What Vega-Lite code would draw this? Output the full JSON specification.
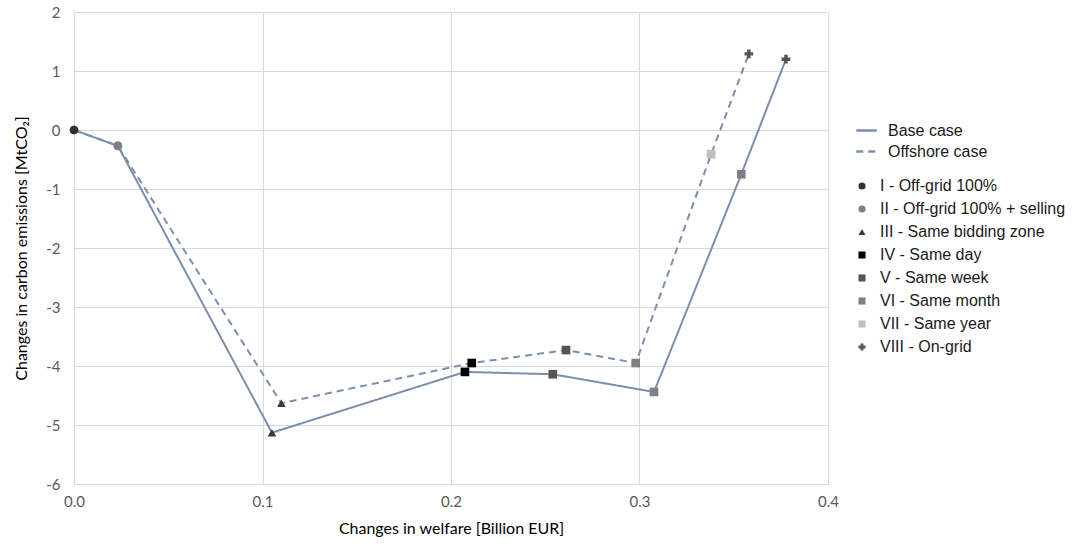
{
  "$schema": "https://vega.github.io/schema/vega-lite/v6.json",
  "width": 754,
  "height": 472,
  "autosize": "none",
  "padding": {"left": 74, "top": 12, "right": 256, "bottom": 60},
  "background": "white",
  "config": {
    "view": {"stroke": null},
    "axis": {
      "labelFont": "Lato", "labelFontSize": 15, "labelColor": "#595959", "labelFlush": false,
      "titleFont": "Lato", "titleFontSize": 16, "titleFontWeight": "normal", "titleColor": "#000000",
      "gridColor": "#d9d9d9", "domainColor": "#d9d9d9", "ticks": false
    },
    "legend": {"labelFont": "Liberation Sans", "labelFontSize": 16, "labelColor": "#1a1a1a", "labelLimit": 300}
  },
  "data": {"values": [
    {"case": "Base case", "stage": "I - Off-grid 100%", "x": 0, "y": 0, "ord": 1},
    {"case": "Base case", "stage": "II - Off-grid 100% + selling", "x": 0.0233, "y": -0.27, "ord": 2},
    {"case": "Base case", "stage": "III - Same bidding zone", "x": 0.105, "y": -5.13, "ord": 3},
    {"case": "Base case", "stage": "IV - Same day", "x": 0.2074, "y": -4.1, "ord": 4},
    {"case": "Base case", "stage": "V - Same week", "x": 0.254, "y": -4.14, "ord": 5},
    {"case": "Base case", "stage": "VI - Same month", "x": 0.3077, "y": -4.44, "ord": 6},
    {"case": "Base case", "stage": "VI - Same month", "x": 0.354, "y": -0.75, "ord": 7},
    {"case": "Base case", "stage": "VIII - On-grid", "x": 0.3777, "y": 1.2, "ord": 8},
    {"case": "Offshore case", "stage": "I - Off-grid 100%", "x": 0, "y": 0, "ord": 1},
    {"case": "Offshore case", "stage": "II - Off-grid 100% + selling", "x": 0.0233, "y": -0.27, "ord": 2},
    {"case": "Offshore case", "stage": "III - Same bidding zone", "x": 0.110, "y": -4.63, "ord": 3},
    {"case": "Offshore case", "stage": "IV - Same day", "x": 0.211, "y": -3.95, "ord": 4},
    {"case": "Offshore case", "stage": "V - Same week", "x": 0.261, "y": -3.73, "ord": 5},
    {"case": "Offshore case", "stage": "VI - Same month", "x": 0.298, "y": -3.95, "ord": 6},
    {"case": "Offshore case", "stage": "VII - Same year", "x": 0.338, "y": -0.41, "ord": 7},
    {"case": "Offshore case", "stage": "VIII - On-grid", "x": 0.358, "y": 1.29, "ord": 8}
  ]},
  "encoding": {
    "x": {"field": "x", "type": "quantitative", "scale": {"domain": [0, 0.4], "nice": false},
      "axis": {"values": [0, 0.1, 0.2, 0.3, 0.4], "format": ".1f", "title": "Changes in welfare [Billion EUR]", "labelPadding": 10, "titlePadding": 11}},
    "y": {"field": "y", "type": "quantitative", "scale": {"domain": [-6, 2], "nice": false},
      "axis": {"values": [-6, -5, -4, -3, -2, -1, 0, 1, 2], "format": "d", "labelExpr": "replace(datum.label, '−', '-')", "title": "Changes in carbon emissions [MtCO₂]", "labelPadding": 14, "titlePadding": 16}}
  },
  "layer": [
    {
      "mark": {"type": "line", "color": "#7a8fb0", "strokeWidth": 2},
      "encoding": {
        "detail": {"field": "case"},
        "order": {"field": "ord"},
        "strokeDash": {"field": "case", "type": "nominal",
          "scale": {"domain": ["Base case", "Offshore case"], "range": [[1, 0], [7, 5]]},
          "legend": {"title": null, "orient": "none", "legendX": 781, "legendY": 107, "symbolType": "stroke", "symbolStrokeColor": "#7a8fb0", "symbolStrokeWidth": 2.5, "symbolSize": 420, "rowPadding": 1, "labelOffset": 10, "labelFont": "Liberation Sans", "labelFontSize": 16, "labelLimit": 300}}
      }
    },
    {
      "mark": {"type": "point", "filled": true, "size": 75, "opacity": 1},
      "encoding": {
        "shape": {"field": "stage", "type": "nominal",
          "scale": {"domain": ["I - Off-grid 100%", "II - Off-grid 100% + selling", "III - Same bidding zone", "IV - Same day", "V - Same week", "VI - Same month", "VII - Same year", "VIII - On-grid"],
            "range": ["circle", "circle", "triangle-up", "square", "square", "square", "square", "cross"]},
          "legend": {"title": null, "orient": "none", "legendX": 780, "legendY": 166, "symbolSize": 50, "rowPadding": 7, "labelOffset": 10, "labelFont": "Liberation Sans", "labelFontSize": 16, "labelLimit": 300}},
        "color": {"field": "stage", "type": "nominal",
          "scale": {"domain": ["I - Off-grid 100%", "II - Off-grid 100% + selling", "III - Same bidding zone", "IV - Same day", "V - Same week", "VI - Same month", "VII - Same year", "VIII - On-grid"],
            "range": ["#333333", "#808080", "#3a3a3a", "#000000", "#555555", "#808080", "#bfbfbf", "#555555"]},
          "legend": {"title": null}}
      }
    }
  ]
}
